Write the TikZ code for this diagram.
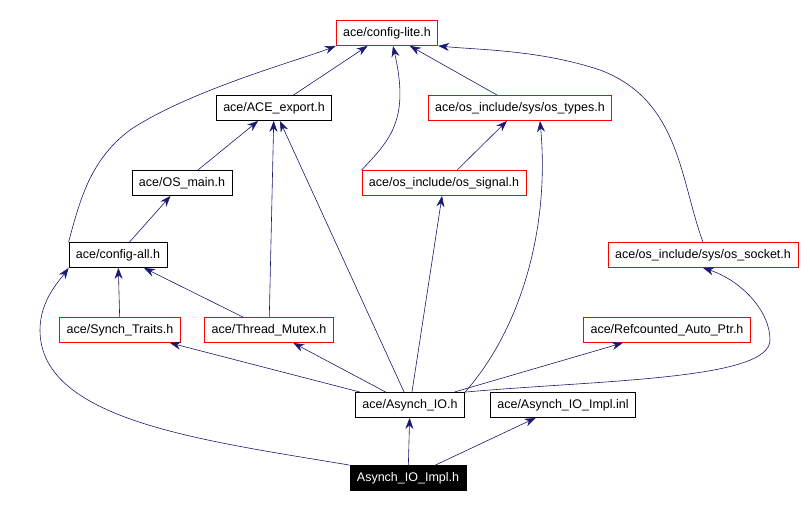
\documentclass[tikz,border=0pt]{standalone}
\usepackage{fontspec}
\setmainfont{Liberation Sans}
\usetikzlibrary{arrows.meta}
\begin{document}
\begin{tikzpicture}[x=1pt,y=-1pt,
  box/.style={draw=black,fill=white,font=\fontsize{12.5}{14}\selectfont,minimum height=25pt,inner xsep=7pt,line width=0.8pt},
  red/.style={box,draw=red},
  dark/.style={box,fill=black,text=white,draw=black},
  e/.style={draw={rgb,255:red,25;green,25;blue,112},line width=0.6pt,-{Stealth[length=11pt,width=8pt]}}]
\useasboundingbox (0,0) rectangle (810,510);
\node[red] (lite) at (387,33) {ace/config-lite.h};
\node[box] (exp) at (274,108) {ace/ACE\_export.h};
\node[red] (types) at (520,108) {ace/os\_include/sys/os\_types.h};
\node[box] (osmain) at (182,183) {ace/OS\_main.h};
\node[red] (signal) at (444,183) {ace/os\_include/os\_signal.h};
\node[box] (all) at (118,255) {ace/config-all.h};
\node[red] (socket) at (703,255) {ace/os\_include/sys/os\_socket.h};
\node[red] (synch) at (120,330) {ace/Synch\_Traits.h};
\node[red] (mutex) at (269,330) {ace/Thread\_Mutex.h};
\node[red] (ref) at (667,330) {ace/Refcounted\_Auto\_Ptr.h};
\node[box] (aio) at (410,405) {ace/Asynch\_IO.h};
\node[box] (inl) at (563,405) {ace/Asynch\_IO\_Impl.inl};
\node[dark] (impl) at (408,478) {Asynch\_IO\_Impl.h};

\draw[e] (impl) -- (aio);
\draw[e] (impl) -- (inl);
\draw[e] (impl.north west) .. controls (200,440) and (40,420) .. (40,330) .. controls (40,300) and (60,280) .. (all.south west);
\draw[e] (aio) -- (synch);
\draw[e] (aio) -- (mutex);
\draw[e] (aio) -- (ref);
\draw[e] (aio.north east) .. controls (600,380) and (770,380) .. (770,340) .. controls (770,310) and (740,280) .. (socket.south);
\draw[e] (aio) -- (exp);
\draw[e] (aio) -- (signal);
\draw[e] (aio.north east) .. controls (520,330) and (550,230) .. (540,121);
\draw[e] (mutex) -- (all);
\draw[e] (mutex) -- (exp);
\draw[e] (synch) -- (all);
\draw[e] (all) -- (osmain);
\draw[e] (all.north west) .. controls (80,200) and (90,160) .. (130,130) .. controls (190,90) and (300,60) .. (lite.south west);
\draw[e] (osmain) -- (exp);
\draw[e] (exp) -- (lite);
\draw[e] (signal.north west) .. controls (390,140) and (410,120) .. (393,46);
\draw[e] (signal) -- (types);
\draw[e] (types) -- (lite);
\draw[e] (socket.north) .. controls (680,180) and (680,100) .. (600,70) .. controls (540,50) and (480,50) .. (lite.south east);
\end{tikzpicture}
\end{document}
